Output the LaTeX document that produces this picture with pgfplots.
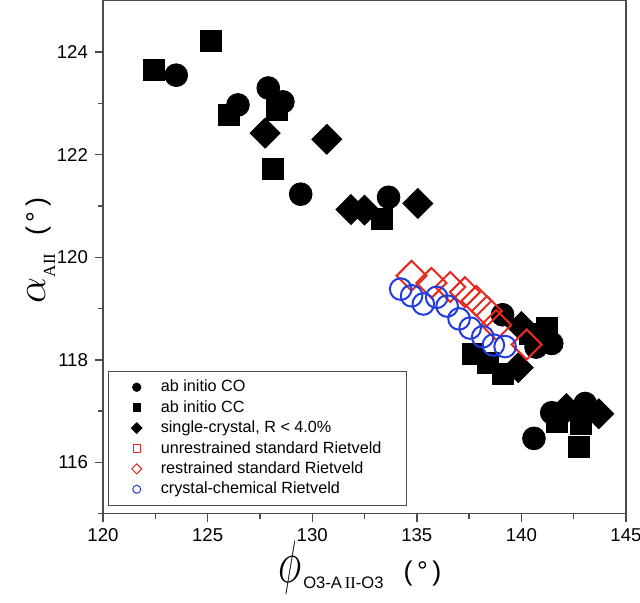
\documentclass[border=0pt]{standalone}
\usepackage{pgfplots}
\pgfplotsset{compat=1.18}
\usepackage{fontspec}
\setmainfont{Liberation Sans}
\newfontfamily\seriffont{Liberation Serif}
\definecolor{rred}{RGB}{232,40,30}
\definecolor{bblue}{RGB}{35,60,225}
\begin{document}
\begin{tikzpicture}
\begin{axis}[
  scale only axis, width=261.5pt, height=256.5pt,
  xmin=120, xmax=145, ymin=115, ymax=125,
  xtick={120,125,...,145}, ytick={116,118,...,124},
  minor xtick={122.5,127.5,132.5,137.5,142.5},
  minor ytick={115,117,119,121,123},
  xtick pos=bottom, ytick pos=left, tick align=outside,
  major tick length=4pt, minor tick length=2.5pt,
  axis line style={draw=black!70, line width=0.7pt},
  every tick/.style={black!70, line width=0.7pt},
  tick label style={font=\fontsize{9.3}{11}\selectfont},
  /pgf/number format/assume math mode=true,
  xlabel={\fontsize{24}{26}\selectfont\raisebox{-1pt}{\scalebox{0.8}[1.2]{$\phi$}}\hspace{1pt}\raisebox{-4pt}{\fontsize{8.3}{10}\selectfont O3-A\,{\seriffont II}-O3}\hspace{10pt}{\fontsize{13.5}{15}\selectfont(\,°\,)}},
  xlabel style={at={(axis description cs:0.491,-0.105)}, anchor=center},
  ylabel={\fontsize{22}{24}\selectfont$\alpha$\raisebox{-5pt}{\fontsize{8.5}{10}\seriffont AII}\hspace{9pt}{\fontsize{13.5}{15}\selectfont(\,°\,)}},
  ylabel style={at={(axis description cs:-0.12,0.513)}, anchor=center},
  legend cell align=left,
  legend style={at={(rel axis cs:0.0096,0.279)}, anchor=north west,
    draw=black!70, line width=0.6pt, font=\fontsize{8.1}{10}\selectfont,
    inner xsep=11.5pt, inner ysep=3pt, row sep=0.2pt, column sep=8.5pt,
    nodes={inner sep=1pt, text height=6.3pt, text depth=1.7pt}},
]
% ab initio CO
\addplot[forget plot, only marks, mark=*, mark size=5.7pt, black] coordinates {
(123.5,123.55) (126.45,122.97) (127.9,123.30) (128.6,123.03) (129.45,121.23)
(133.65,121.17) (139.1,118.88) (140.7,118.25) (141.45,118.32)
(140.6,116.47) (141.45,116.97) (143.05,117.15)
};
% ab initio CC
\addplot[forget plot, only marks, mark=square*, mark size=5.25pt, black] coordinates {
(122.45,123.65) (125.15,124.21) (126.0,122.77) (128.3,122.87) (128.1,121.73)
(133.35,120.75) (137.7,118.12) (138.4,117.95) (139.1,117.72) (141.2,118.62)
(140.4,118.5) (141.7,116.8) (142.85,116.75) (142.75,116.3)
};
% single crystal
\addplot[forget plot, only marks, mark=square*, mark size=5.3pt, mark options={rotate=45}, black] coordinates {
(127.75,122.42) (130.7,122.30) (131.85,120.93) (132.5,120.92) (135.05,121.05)
(140.0,118.65) (139.85,117.85) (142.15,117.05) (143.7,116.95)
};
% restrained standard Rietveld
\addplot[forget plot, only marks, mark=square, mark size=5.3pt, mark options={rotate=45, fill=white, line width=1pt}, rred] coordinates {
(134.75,119.64) (135.7,119.50) (136.6,119.42) (137.3,119.32) (137.85,119.15)
(138.35,118.95) (138.8,118.68) (140.25,118.30)
};
% crystal-chemical Rietveld
\addplot[forget plot, only marks, mark=o, mark size=5.4pt, mark options={fill=white, line width=1pt}, bblue] coordinates {
(134.23,119.38) (134.75,119.25) (135.31,119.09) (135.95,119.22) (136.45,119.05)
(137.02,118.80) (137.55,118.62) (138.15,118.45) (138.66,118.29) (139.22,118.26)
};
\addlegendimage{only marks, mark=*, mark size=2pt, black}
\addlegendentry{ab initio CO}
\addlegendimage{only marks, mark=square*, mark size=1.8pt, black}
\addlegendentry{ab initio CC}
\addlegendimage{only marks, mark=square*, mark size=1.8pt, mark options={rotate=45}, black}
\addlegendentry{single-crystal, R < 4.0\%}
\addlegendimage{only marks, mark=square, mark size=1.8pt, mark options={line width=0.5pt}, rred}
\addlegendentry{unrestrained standard Rietveld}
\addlegendimage{only marks, mark=square, mark size=1.8pt, mark options={rotate=45, line width=0.5pt}, rred}
\addlegendentry{restrained standard Rietveld}
\addlegendimage{only marks, mark=o, mark size=2pt, mark options={line width=0.5pt}, bblue}
\addlegendentry{crystal-chemical Rietveld}
\end{axis}
\pgfresetboundingbox
\path ([shift={(-51.5pt,-44.5pt)}]current axis.south west) rectangle ([shift={(7pt,0.4pt)}]current axis.north east);
\end{tikzpicture}
\end{document}
